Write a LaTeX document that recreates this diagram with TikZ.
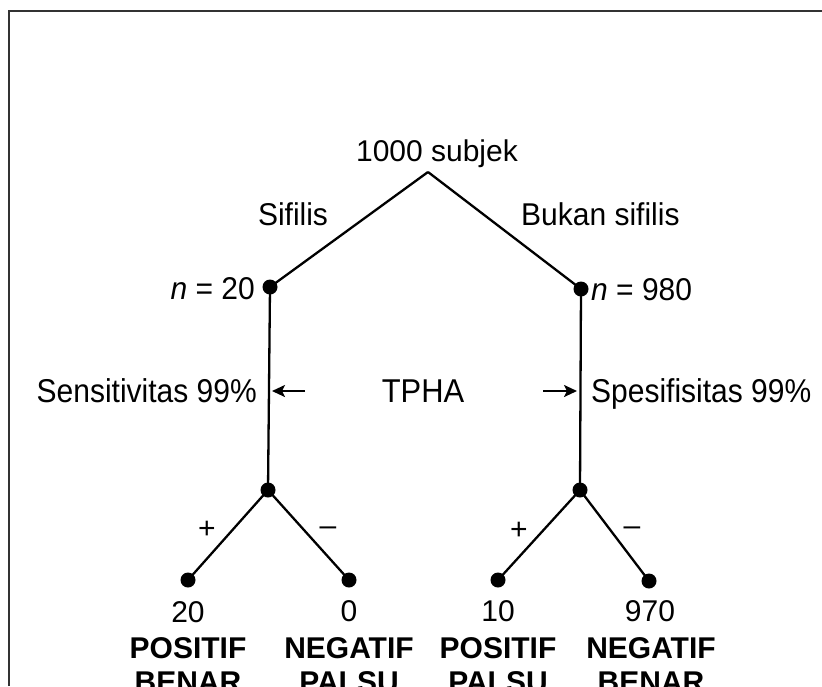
\documentclass[tikz,border=0pt]{standalone}
\usepackage{fontspec}
\setmainfont{Liberation Sans}
\usetikzlibrary{arrows.meta}
\begin{document}
\begin{tikzpicture}[x=1pt,y=-1pt,
  txt/.style={inner sep=0pt,font=\fontsize{30}{34}\selectfont},
  bold/.style={txt,font=\fontsize{30}{33.5}\selectfont\bfseries,align=center},
  sign/.style={txt,font=\fontsize{30}{34}\selectfont},
  dot/.style={circle,fill=black,inner sep=0pt,minimum size=15pt},
  edge/.style={line width=2.3pt},
  smallarrow/.style={line width=2.3pt,-{Stealth[length=13pt,width=12pt,inset=3pt]}},
  frame/.style={line width=2pt,draw=black!80}]
\useasboundingbox (0,0) rectangle (822,686);
\clip (0,0) rectangle (822,686);
\fill[white] (0,0) rectangle (822,686);
% frame
\coordinate (fl) at (9,686);
\coordinate (fc) at (9,11);
\coordinate (fr) at (822,11);
\draw[frame] (fl) -- (fc) -- (fr);
% tree nodes
\coordinate (apex) at (428,172);
\node[dot] (l1) at (270,287) {};
\node[dot] (r1) at (581,289) {};
\node[dot] (l2) at (268,490) {};
\node[dot] (r2) at (580,490) {};
\node[dot] (lp) at (188,580) {};
\node[dot] (ln) at (349,580) {};
\node[dot] (rp) at (498,580) {};
\node[dot] (rn) at (649,581) {};
% connectors
\draw[edge] (apex) -- (l1.center);
\draw[edge] (apex) -- (r1.center);
\draw[edge] (l1.center) -- (l2.center);
\draw[edge] (r1.center) -- (r2.center);
\draw[edge] (l2.center) -- (lp.center);
\draw[edge] (l2.center) -- (ln.center);
\draw[edge] (r2.center) -- (rp.center);
\draw[edge] (r2.center) -- (rn.center);
% top labels
\node[txt,anchor=base] (root) at (437,161) {1000 subjek};
\node[txt,anchor=base] (sif) at (293,225) {\scalebox{1}[1.05]{Sifilis}};
\node[txt,anchor=base west] (bsif) at (521,225) {\scalebox{1}[1.05]{Bukan sifilis}};
\node[txt,anchor=base east] (n20) at (255,299) {\scalebox{1}[1.05]{{\itshape n} = 20}};
\node[txt,anchor=base west] (n980) at (591,300) {\scalebox{1}[1.05]{{\itshape n} = 980}};
% middle
\node[txt,anchor=base east] (sens) at (257,402) {\scalebox{1}[1.1]{Sensitivitas 99\%}};
\node[txt,anchor=base west] (spes) at (591,402) {\scalebox{1}[1.1]{Spesifisitas 99\%}};
\node[txt,anchor=base] (tpha) at (423,402) {\scalebox{1.03}[1.1]{TPHA}};
\coordinate (as) at (305,391);
\coordinate (ae) at (272,391);
\coordinate (bs) at (543,391);
\coordinate (be) at (577,391);
\draw[smallarrow] (as) -- (ae);
\draw[smallarrow] (bs) -- (be);
% signs
\node[sign] (plusl) at (207,530) {+};
\node[sign] (minl) at (328,531) {\textendash};
\node[sign] (plusr) at (519,531) {+};
\node[sign] (minr) at (632,531) {\textendash};
% numbers
\node[txt,anchor=base] (v20) at (188,622) {20};
\node[txt,anchor=base] (v0) at (349,621) {0};
\node[txt,anchor=base] (v10) at (498,621) {10};
\node[txt,anchor=base] (v970) at (650,621) {970};
% category labels
\node[bold,anchor=base] (c1) at (188,658) {POSITIF};
\node[bold,anchor=base] (c1b) at (188,692) {BENAR};
\node[bold,anchor=base] (c2) at (349,658) {NEGATIF};
\node[bold,anchor=base] (c2b) at (349,692) {PALSU};
\node[bold,anchor=base] (c3) at (498,658) {POSITIF};
\node[bold,anchor=base] (c3b) at (498,692) {PALSU};
\node[bold,anchor=base] (c4) at (651,658) {NEGATIF};
\node[bold,anchor=base] (c4b) at (651,692) {BENAR};
\end{tikzpicture}
\end{document}
